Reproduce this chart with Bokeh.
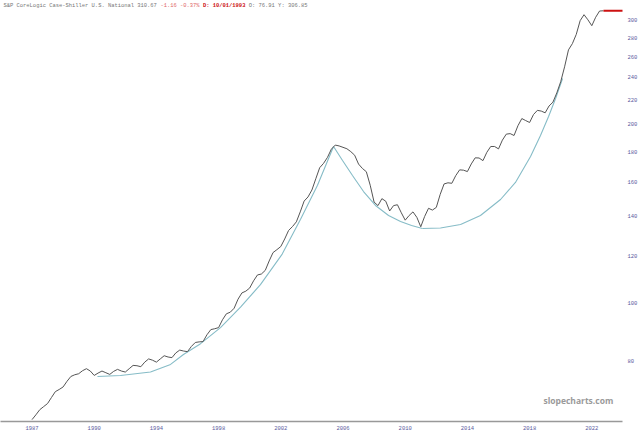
from bokeh.plotting import figure
from bokeh.models import FixedTicker, Label, Range1d, PrintfTickFormatter
from bokeh.embed import file_html
from bokeh.resources import INLINE

# ---- data (S&P CoreLogic Case-Shiller U.S. National, quarterly: Jan, Apr, Jul, Oct) ----
years = list(range(1987, 2024))
quarter_months = [1, 4, 7, 10]
index_values = [
    63.7, 64.9, 66.2, 67.0,
    67.8, 69.4, 71.0, 71.6,
    72.3, 73.9, 75.3, 75.8,
    76.1, 77.0, 77.6, 76.9,
    75.6, 76.3, 76.9, 76.4,
    75.9, 76.8, 77.4, 76.9,
    76.6, 77.6, 78.6, 78.5,
    78.2, 79.6, 80.6, 80.2,
    79.6, 80.6, 81.6, 81.2,
    81.0, 82.5, 83.4, 83.1,
    82.9, 84.6, 85.9, 86.1,
    86.2, 88.5, 90.3, 90.6,
    91.0, 93.8, 96.0, 96.6,
    98.1, 101.6, 104.1, 104.8,
    106.1, 109.1, 111.6, 112.0,
    113.6, 117.8, 121.7, 123.1,
    124.6, 128.3, 132.6, 134.6,
    137.1, 142.5, 148.6, 151.0,
    155.1, 162.0, 169.1, 172.0,
    176.0, 181.7, 184.6, 184.0,
    183.0, 182.0, 180.0, 177.5,
    171.5, 168.6, 166.5, 158.0,
    148.0, 146.0, 150.0, 148.5,
    143.0, 146.0, 146.5, 142.0,
    138.0, 140.5, 142.5, 139.5,
    134.5, 140.0, 144.5, 143.5,
    145.0, 152.5, 158.8, 159.5,
    159.2, 164.0, 167.7, 167.5,
    166.6, 171.6, 175.7, 175.6,
    173.8, 179.5, 183.6, 183.6,
    181.9, 188.2, 192.6, 193.0,
    191.6, 199.0, 204.6, 203.0,
    201.5, 207.8, 211.2, 210.6,
    209.2, 214.8, 218.0, 226.0,
    236.0, 250.0, 267.0, 273.5,
    283.5, 299.0, 306.0, 300.0,
    293.2, 303.0, 310.4, 310.67,
]

# hand-drawn "bowl" arcs (year, value)
arc1_years = [1991.21, 1992.69, 1994.62, 1995.91, 1996.74, 1997.84, 1999.12, 2000.41, 2001.69, 2003.09, 2004.27, 2005.36, 2006.39]
arc1_values = [75.3, 75.6, 76.6, 78.9, 82.0, 85.5, 91.0, 98.5, 107.5, 121.0, 138.5, 158.0, 183.6]
arc2_years = [2006.39, 2006.97, 2007.61, 2008.32, 2009.09, 2009.93, 2010.70, 2011.41, 2012.11]
arc2_values = [183.6, 173.9, 164.1, 154.2, 146.1, 140.5, 137.3, 135.2, 133.6]
arc3_years = [2012.11, 2013.27, 2014.56, 2015.84, 2017.13, 2018.09, 2019.06, 2019.70, 2020.22, 2020.67, 2021.12]
arc3_values = [133.6, 133.9, 135.7, 140.5, 149.5, 159.7, 176.6, 191.6, 206.2, 221.1, 239.0]

x_tick_positions = [1987, 1991, 1995, 1999, 2003, 2007, 2011, 2015, 2019, 2023]
x_tick_labels = ["1987", "1990", "1994", "1998", "2002", "2006", "2010", "2014", "2018", "2022"]
y_tick_values = [80, 100, 120, 140, 160, 180, 200, 220, 240, 260, 280, 300]

dates = [y + (m - 1) / 12.0 for y in years for m in quarter_months][:len(index_values)]

X0, X1 = 1984.974, 2024.974
Y0, Y1 = 63.24, 323.3

p = figure(frame_width=622, frame_height=421, output_backend="svg", toolbar_location=None,
           y_axis_type="log", y_axis_location="right",
           x_range=Range1d(X0, X1), y_range=Range1d(Y0, Y1),
           min_border_left=0, min_border_right=0, min_border_top=0, min_border_bottom=0,
           background_fill_color="white", border_fill_color="white")
p.outline_line_color = None
p.grid.visible = False

# axes
lab_color = "#5b5b9e"
for ax in (p.xaxis[0], p.yaxis[0]):
    ax.major_tick_line_color = None
    ax.minor_tick_line_color = None
    ax.major_tick_out = 0
    ax.major_tick_in = 0
    ax.minor_tick_out = 0
    ax.minor_tick_in = 0
    ax.major_label_text_font = "Liberation Mono"
    ax.major_label_text_font_size = "5.5px"
    ax.major_label_text_color = lab_color

xa = p.xaxis[0]
xa.ticker = FixedTicker(ticks=x_tick_positions)
xa.major_label_overrides = {pos: lab for pos, lab in zip(x_tick_positions, x_tick_labels)}
xa.axis_line_color = "#999999"
xa.axis_line_width = 1.5
xa.major_label_standoff = 4

ya = p.yaxis[0]
ya.ticker = FixedTicker(ticks=y_tick_values)
ya.formatter = PrintfTickFormatter(format="%d")
ya.axis_line_color = None
ya.major_label_standoff = 5

# arcs
teal = "#86bcc7"
p.line(arc1_years, arc1_values, line_color=teal, line_width=1.1)
p.line(arc2_years, arc2_values, line_color=teal, line_width=1.1)
p.line(arc3_years, arc3_values, line_color=teal, line_width=1.1)

# price line
p.line(dates, index_values, line_color="#555555", line_width=1, line_join="round")

# last price marker line
p.ray(x=[dates[-1]], y=[index_values[-1]], length=0, angle=0, line_color="#cc1111", line_width=2)

# header (monospace, positioned by character index)
cw = 3.27
hdr = [
    ("S&P CoreLogic Case-Shiller U.S. National 310.67", 0, "#777777", "normal"),
    ("-1.16 -0.37%", 48, "#e06666", "normal"),
    ("D: 10/01/1993", 61, "#cc1111", "bold"),
    ("O:  76.91 Y: 306.85", 75, "#777777", "normal"),
]
for txt, ci, col, style in hdr:
    p.add_layout(Label(x=X0, y=Y1, x_offset=3 + ci * cw, y_offset=-5, text=txt,
                       text_font="Liberation Mono", text_font_size="5.45px",
                       text_color=col, text_font_style=style, text_baseline="middle"))

p.add_layout(Label(x=X0, y=Y0, x_offset=543, y_offset=21, text="slopecharts.com",
                   text_font="Open Sans", text_font_size="8.5px", text_font_style="bold",
                   text_color="#9a9a9a", text_baseline="middle"))

open("out.html", "w").write(file_html(p, INLINE))
